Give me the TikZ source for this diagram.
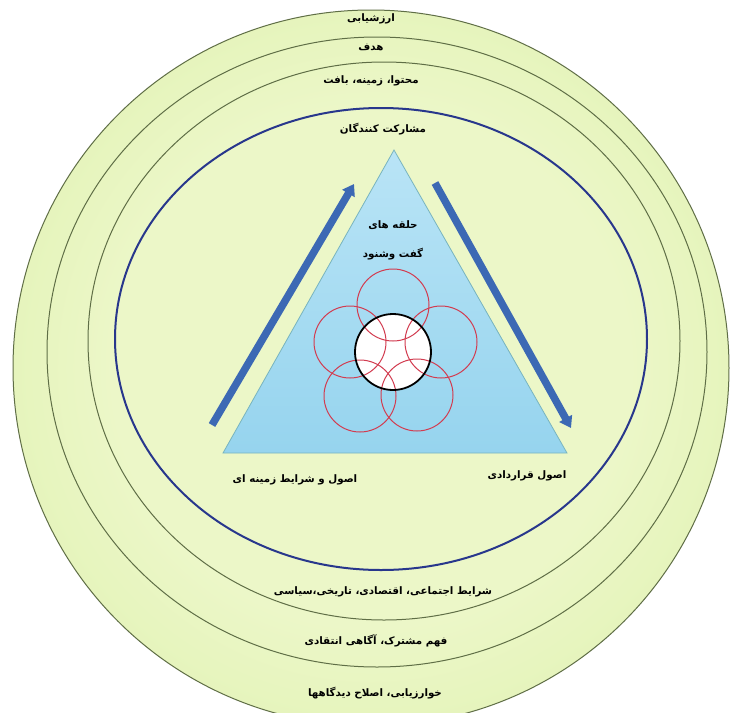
\documentclass[tikz,border=0pt]{standalone}
\usepackage{fontspec}
\newfontfamily\arfont[Script=Arabic]{DejaVu Sans}
\TeXXeTstate=1
\usetikzlibrary{arrows.meta}
\definecolor{gin}{RGB}{236,247,200}
\definecolor{gmid}{RGB}{220,240,170}
\definecolor{gout}{RGB}{196,231,132}
\definecolor{ringline}{RGB}{95,110,70}
\definecolor{navyline}{RGB}{40,55,140}
\definecolor{arrowblue}{RGB}{60,105,180}
\definecolor{arrowedge}{RGB}{45,80,150}
\definecolor{trtop}{RGB}{185,228,246}
\definecolor{trbot}{RGB}{150,212,238}
\definecolor{tredge}{RGB}{120,180,190}
\definecolor{petal}{RGB}{210,60,80}
\definecolor{hubin}{RGB}{255,255,255}
\definecolor{hubout}{RGB}{240,228,232}
\pgfdeclareradialshading{greenball}{\pgfpoint{0bp}{0bp}}{color(0bp)=(gin); color(18bp)=(gin); color(36bp)=(gmid); color(50bp)=(gout)}
\pgfdeclareradialshading{hubshade}{\pgfpoint{0bp}{0bp}}{color(0bp)=(hubin); color(30bp)=(hubin); color(50bp)=(hubout)}
\begin{document}
\begin{tikzpicture}[x=1pt,y=-1pt,
  lbl/.style={font=\arfont\bfseries\fontsize{10.3}{12}\selectfont, inner sep=1pt, text=black},
  ring/.style={draw=ringline, line width=1pt},
  bluearrow/.style={line width=7.5pt, draw=arrowblue, -{Triangle[length=11pt,width=14pt]}},
  petalc/.style={draw=petal, line width=1pt}]
\useasboundingbox (0,0) rectangle (732,713);
\clip (0,0) rectangle (732,713);
\fill[white] (0,0) rectangle (732,713);
% rings
\shade[shading=greenball] (371,368) circle[radius=358];
\draw[ring] (371,368) circle[radius=358];
\draw[ring] (377,352) ellipse[x radius=330, y radius=315];
\draw[ring] (384,341) ellipse[x radius=296, y radius=279];
\draw[navyline, line width=2pt] (381,339) ellipse[x radius=266, y radius=231];
% triangle
\coordinate (ta) at (394,150);
\coordinate (tl) at (223,453);
\coordinate (tr) at (567,453);
\shadedraw[top color=trtop, bottom color=trbot, draw=tredge, line width=0.8pt] (ta) -- (tl) -- (tr) -- cycle;
% arrows
\coordinate (la0) at (212,425);
\coordinate (la1) at (354,184);
\coordinate (ra0) at (435,183);
\coordinate (ra1) at (571,428);
\draw[bluearrow] (la0) -- (la1);
\draw[bluearrow] (ra0) -- (ra1);
% circles
\shade[shading=hubshade] (393,352) circle[radius=38];
\draw[petalc] (393,305) circle[radius=36];
\draw[petalc] (350,342) circle[radius=36];
\draw[petalc] (441,342) circle[radius=36];
\draw[petalc] (360,396) circle[radius=36];
\draw[petalc] (417,395) circle[radius=36];
\draw[black, line width=1.8pt] (393,352) circle[radius=38];
% labels
\node[lbl] (l1) at (371,19) {\beginR ارزشیابی\endR};
\node[lbl] (l2) at (371,47) {\beginR هدف\endR};
\node[lbl] (l3) at (371,81) {\beginR محتوا، زمینه، بافت\endR};
\node[lbl] (l4) at (383,129) {\beginR مشارکت کنندگان\endR};
\node[lbl] (l5) at (393,225) {\beginR حلقه های\endR};
\node[lbl] (l6) at (393,254) {\beginR گفت وشنود\endR};
\node[lbl] (l7) at (295,480) {\beginR اصول و شرایط زمینه ای\endR};
\node[lbl] (l8) at (527,476) {\beginR اصول قراردادی\endR};
\node[lbl] (l9) at (383,592) {\beginR شرایط اجتماعی، اقتصادی، تاریخی،سیاسی\endR};
\node[lbl] (l10) at (376,641) {\beginR فهم مشترک، آگاهی انتقادی\endR};
\node[lbl] (l11) at (375,693) {\beginR خوارزیابی، اصلاح دیدگاهها\endR};
\end{tikzpicture}
\end{document}
